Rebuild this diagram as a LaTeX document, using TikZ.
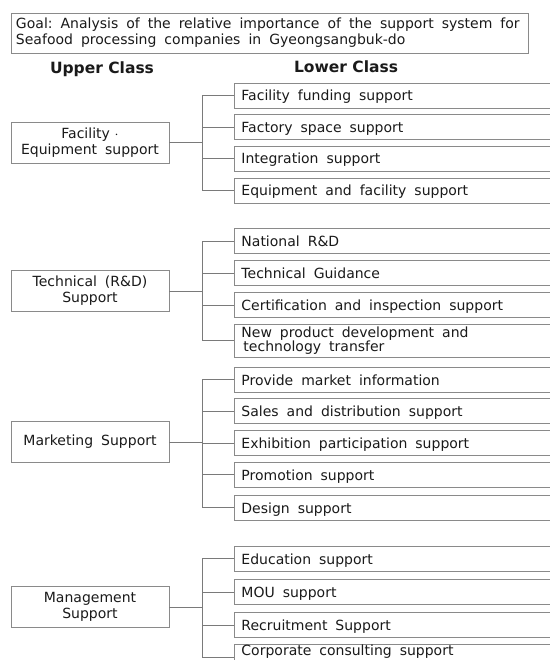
\documentclass[tikz,border=0pt]{standalone}
\usepackage{fontspec}
\setmainfont{DejaVu Sans}
\definecolor{boxgray}{HTML}{8A8A8A}
\definecolor{linegray}{HTML}{7A7A7A}
\definecolor{ink}{HTML}{1A1A1A}
\newcommand{\widespaces}{\spaceskip=8pt plus 1pt minus 1pt\xspaceskip=8pt\relax}
\begin{document}
\begin{tikzpicture}[x=1pt,y=-1pt,
  base/.style={draw=boxgray, line width=0.9pt, fill=white, text=ink,
    font=\fontsize{14}{16}\selectfont, execute at begin node=\widespaces},
  lowbox/.style={base, anchor=west, minimum width=330pt, minimum height=25pt,
    text width=316pt, align=left, inner xsep=6pt, inner ysep=0pt},
  oneline/.style={lowbox, text height=12.5pt, text depth=1.5pt},
  upbox/.style={base, minimum width=158pt, minimum height=41pt, align=center, inner xsep=2pt},
  head/.style={text=ink, font=\bfseries\fontsize{15.5}{18}\selectfont},
  link/.style={draw=linegray, line width=0.9pt}]
\useasboundingbox (0,0) rectangle (549,660);

% goal and column headings
\node[base, minimum width=516pt, minimum height=40pt, text width=508pt,
  align=left, inner xsep=4.5pt] (goal) at (270,33)
  {Goal: Analysis of the relative importance of the support system for\\
   Seafood processing companies in Gyeongsangbuk-do};
\node[head] (upper) at (102,69) {Upper Class};
\node[head] (lower) at (346,67) {Lower Class};

% branch points
\coordinate (b1) at (202,0);
\coordinate (b2) at (202,0);
\coordinate (b3) at (202,0);
\coordinate (b4) at (202,0);

% facility / equipment
\node[upbox] (u1) at (90,142.5) {Facility\,\,$\cdot$\\Equipment support};
\node[oneline] (r11) at (234,95.5) {Facility funding support};
\node[oneline] (r12) at (234,127) {Factory space support};
\node[oneline] (r13) at (234,158.5) {Integration support};
\node[oneline] (r14) at (234,190.5) {Equipment and facility support};

% technical
\node[upbox] (u2) at (90,291) {Technical (R\&D)\\Support};
\node[oneline] (r21) at (234,241) {National R\&D};
\node[oneline] (r22) at (234,273) {Technical Guidance};
\node[oneline] (r23) at (234,305) {Certification and inspection support};
\node[lowbox, minimum height=33pt, font=\fontsize{14}{14}\selectfont] (r24) at (234,340.5)
  {New product development and\\\hspace*{2pt}technology transfer};

% marketing
\node[upbox] (u3) at (90,442) {Marketing Support};
\node[oneline] (r31) at (234,379.5) {Provide market information};
\node[oneline] (r32) at (234,411) {Sales and distribution support};
\node[oneline] (r33) at (234,443) {Exhibition participation support};
\node[oneline] (r34) at (234,474.5) {Promotion support};
\node[oneline] (r35) at (234,507.5) {Design support};

% management
\node[upbox] (u4) at (90,607) {Management\\Support};
\node[oneline] (r41) at (234,558.5) {Education support};
\node[oneline] (r42) at (234,592) {MOU support};
\node[oneline] (r43) at (234,625) {Recruitment Support};
\node[lowbox, anchor=north west, minimum height=26pt, text height=11.5pt, text depth=14.5pt]
  (r44) at (234,644) {Corporate consulting support};

% connectors
\foreach \g/\mids in {1/{r12,r13}, 2/{r22,r23}, 3/{r32,r33,r34}, 4/{r42,r43}} {
  \draw[link] (u\g.east) -- (u\g.east -| b\g);
  \foreach \m in \mids { \draw[link] (\m.west -| b\g) -- (\m.west); }
}
\draw[link] (r11.west) -- (r11.west -| b1) -- (r14.west -| b1) -- (r14.west);
\draw[link] (r21.west) -- (r21.west -| b2) -- (r24.west -| b2) -- (r24.west);
\draw[link] (r31.west) -- (r31.west -| b3) -- (r35.west -| b3) -- (r35.west);
\draw[link] (r41.west) -- (r41.west -| b4) -- ([yshift=-13pt]r44.north west -| b4) -- ([yshift=-13pt]r44.north west);
\end{tikzpicture}
\end{document}
